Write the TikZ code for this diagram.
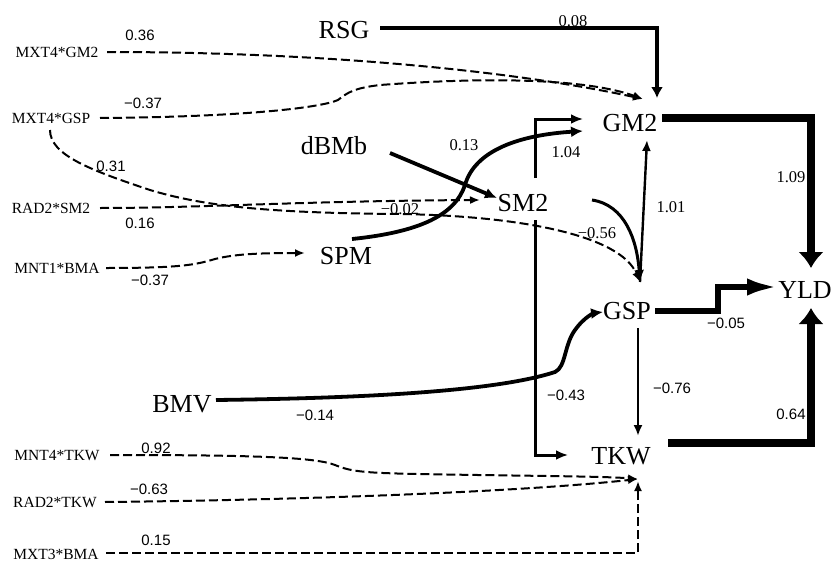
\documentclass[tikz,border=0pt]{standalone}
\usepackage{fontspec}
\setmainfont{Liberation Serif}
\newfontfamily\numsans{Liberation Sans}
\usetikzlibrary{arrows.meta,calc}
\begin{document}
\begin{tikzpicture}[x=1pt,y=-1pt,
  big/.style={font=\fontsize{26}{26}\selectfont, inner sep=0pt},
  small/.style={font=\fontsize{15.5}{16}\selectfont, inner sep=0pt},
  nums/.style={font=\numsans\fontsize{15}{16}\selectfont, inner sep=0pt},
  numr/.style={font=\fontsize{16.5}{17}\selectfont, inner sep=0pt},
  dsh/.style={line width=2pt, dash pattern=on 9pt off 4pt, -{Latex[length=10pt,width=8pt]}},
  thin/.style={line width=2.4pt, -{Latex[length=11pt,width=9pt]}},
  mid/.style={line width=3pt, -{Latex[length=12pt,width=10pt]}},
  thick/.style={line width=3.8pt, -{Latex[length=12pt,width=11pt]}},
  heavy/.style={line width=8pt, -{Latex[length=16pt,width=26pt]}},
  heavyb/.style={line width=6.5pt, -{Latex[length=33pt,width=17pt]}}
]
\useasboundingbox (0,0) rectangle (831,562);

% main variables
\node[big] (RSG) at (344,30) {RSG};
\node[big] (dBMb) at (334,146) {dBMb};
\node[big] (SPM) at (346,256) {SPM};
\node[big] (SM2) at (523,203) {SM2};
\node[big] (GM2) at (630,123) {GM2};
\node[big] (GSP) at (627,311) {GSP};
\node[big] (YLD) at (805,290) {YLD};
\node[big] (TKW) at (621,456) {TKW};
\node[big] (BMV) at (182,404) {BMV};

% interaction terms
\node[small] (xgm) at (57,52) {MXT4*GM2};
\node[small] (xgsp) at (51,118) {MXT4*GSP};
\node[small] (rsm) at (51,208) {RAD2*SM2};
\node[small] (nbma) at (57,268) {MNT1*BMA};
\node[small] (ntkw) at (57,456) {MNT4*TKW};
\node[small] (rtkw) at (55,502) {RAD2*TKW};
\node[small] (xbma) at (56,554) {MXT3*BMA};

% coefficients
\node[nums] (l1) at (140,35) {0.36};
\node[nums] (l2) at (143,103) {−0.37};
\node[nums] (l3) at (111,166) {0.31};
\node[nums] (l4) at (140,223) {0.16};
\node[nums] (l5) at (150,280) {−0.37};
\node[numr] (l6) at (400,209) {−0.02};
\node[numr] (l7) at (464,145) {0.13};
\node[numr] (l8) at (566,152) {1.04};
\node[numr] (l9) at (573,21) {0.08};
\node[numr] (l10) at (791,177) {1.09};
\node[numr] (l11) at (671,207) {1.01};
\node[numr] (l12) at (597,233) {−0.56};
\node[nums] (l13) at (726,323) {−0.05};
\node[nums] (l14) at (315,415) {−0.14};
\node[nums] (l15) at (566,395) {−0.43};
\node[nums] (l16) at (672,388) {−0.76};
\node[nums] (l17) at (791,414) {0.64};
\node[nums] (l18) at (156,448) {0.92};
\node[nums] (l19) at (149,489) {−0.63};
\node[nums] (l20) at (156,540) {0.15};

% RSG -> GM2
\draw[line width=4pt, -{Latex[length=11pt,width=12pt]}]
  ($(RSG)+(36,-2)$) -| ($(GM2)+(27,-25)$);

% MXT4*GM2 -> GM2
\draw[dsh] ($(xgm)+(50,0)$) .. controls (330,52) and (520,72) .. ($(GM2)+(13,-24)$);
% MXT4*GSP -> GM2
\draw[dsh] ($(xgsp)+(49,0)$) .. controls (240,117) and (320,108) .. (338,100)
  .. controls (348,92) and (355,88) .. (380,85)
  .. controls (500,76) and (590,80) .. ($(GM2)+(13,-24)$);
% MXT4*GSP -> GSP
\draw[dsh] ($(xgsp)+(-1,12)$) .. controls (50,155) and (90,170) .. (150,190)
  .. controls (200,205) and (260,213) .. (400,214)
  .. controls (520,216) and (620,235) .. ($(GSP)+(13,-29)$);
% RAD2*SM2 -> SM2
\draw[dsh] ($(rsm)+(49,0)$) .. controls (200,208) and (300,201) .. ($(SM2)+(-43,-3)$);
% MNT1*BMA -> SPM
\draw[dsh] ($(nbma)+(49,0)$) .. controls (180,268) and (195,265) .. (215,259)
  .. controls (235,254) and (260,253) .. ($(SPM)+(-41,-3)$);

% SPM -> GM2
\draw[thick] ($(SPM)+(6,-17)$) .. controls (420,232) and (455,215) .. (465,185)
  .. controls (475,150) and (520,135) .. ($(GM2)+(-47,8)$);
% dBMb -> SM2
\draw[thick] ($(dBMb)+(56,7)$) -- ($(SM2)+(-26,-5)$);
% SM2 -> GM2
\draw[mid] ($(SM2)+(12,-25)$) |- ($(GM2)+(-47,-4)$);
% SM2 -> TKW
\draw[mid] ($(SM2)+(12,17)$) |- ($(TKW)+(-53,-1)$);
% SM2 -> GSP
\draw[mid] ($(SM2)+(69,-3)$) .. controls (625,205) and (637,240) .. ($(GSP)+(13,-29)$);
% GSP -> GM2
\draw[thin] ($(GSP)+(13,-29)$) -- ($(GM2)+(17,17)$);
% GSP -> TKW
\draw[thin] ($(GSP)+(11,17)$) -- ($(TKW)+(17,-20)$);

% BMV -> GSP
\draw[thick] ($(BMV)+(34,-4)$) .. controls (380,398) and (500,390) .. (555,372)
  .. controls (566,367) and (564,345) .. (575,330)
  .. controls (585,316) and (595,313) .. ($(GSP)+(-24,1)$);

% to YLD
\draw[heavy] ($(GM2)+(32,-5)$) -| ($(YLD)+(6,-22)$);
\draw[heavy] ($(TKW)+(47,-13)$) -| ($(YLD)+(6,18)$);
\draw[heavyb] ($(GSP)+(28,0)$) -- ($(GSP)+(91,0)$) -- ($(YLD)+(-87,-3)$) -- ($(YLD)+(-25,-3)$);

% to TKW (dashed)
\draw[dsh] ($(ntkw)+(53,-1)$) .. controls (250,455) and (315,457) .. (335,465)
  .. controls (350,471) and (360,473) .. (420,474)
  .. controls (520,476) and (600,476) .. ($(TKW)+(17,23)$);
\draw[dsh] ($(rtkw)+(50,0)$) .. controls (300,500) and (520,492) .. ($(TKW)+(17,23)$);
\draw[dsh] ($(xbma)+(50,-1)$) -| ($(TKW)+(17,25)$);

\end{tikzpicture}
\end{document}
